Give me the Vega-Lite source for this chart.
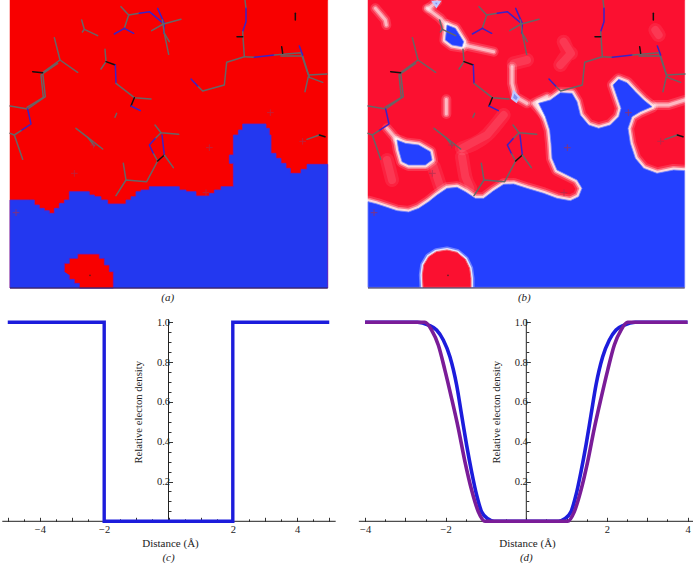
{"$schema":"https://vega.github.io/schema/vega-lite/v6.json","padding":0,"background":"white","columns":2,"spacing":0,"bounds":"flush",
"resolve":{"scale":{"stroke":"independent"}},
"config":{"view":{"stroke":null},"text":{"font":"Liberation Serif"}},
"datasets":{
"mol":[
{"g":"a1","k":"grey","i":0,"x":160,"y":113},{"g":"a1","k":"grey","i":1,"x":177,"y":180},{"g":"a1","k":"grey","i":2,"x":230,"y":217},
{"g":"a2","k":"grey","i":0,"x":177,"y":180},{"g":"a2","k":"grey","i":1,"x":125,"y":218},{"g":"a2","k":"grey","i":2,"x":133,"y":290},{"g":"a2","k":"grey","i":3,"x":80,"y":327},{"g":"a2","k":"grey","i":4,"x":27,"y":318},
{"g":"a3","k":"grey","i":0,"x":170,"y":190},{"g":"a3","k":"grey","i":1,"x":120,"y":225},{"g":"a3","k":"grey","i":2,"x":127,"y":292},{"g":"a3","k":"grey","i":3,"x":78,"y":322},
{"g":"a4","k":"black","i":0,"x":125,"y":218},{"g":"a4","k":"black","i":1,"x":95,"y":215},
{"g":"a5","k":"blue","i":0,"x":80,"y":327},{"g":"a5","k":"blue","i":1,"x":90,"y":372},{"g":"a5","k":"blue","i":2,"x":60,"y":392},
{"g":"a6","k":"grey","i":0,"x":60,"y":392},{"g":"a6","k":"grey","i":1,"x":40,"y":405},{"g":"a6","k":"grey","i":2,"x":65,"y":478},
{"g":"a7","k":"grey","i":0,"x":40,"y":405},{"g":"a7","k":"grey","i":1,"x":27,"y":400},
{"g":"b1","k":"grey","i":0,"x":242,"y":60},{"g":"b1","k":"grey","i":1,"x":250,"y":88},{"g":"b1","k":"grey","i":2,"x":290,"y":107},
{"g":"b2","k":"grey","i":0,"x":250,"y":88},{"g":"b2","k":"grey","i":1,"x":244,"y":96},
{"g":"c1","k":"grey","i":0,"x":360,"y":20},{"g":"c1","k":"grey","i":1,"x":383,"y":45},{"g":"c1","k":"grey","i":2,"x":370,"y":85},
{"g":"c2","k":"blue","i":0,"x":370,"y":85},{"g":"c2","k":"blue","i":1,"x":340,"y":102},
{"g":"c3","k":"blue","i":0,"x":370,"y":85},{"g":"c3","k":"blue","i":1,"x":398,"y":100},
{"g":"c4","k":"grey","i":0,"x":383,"y":45},{"g":"c4","k":"grey","i":1,"x":415,"y":40},
{"g":"c5","k":"blue","i":0,"x":415,"y":40},{"g":"c5","k":"blue","i":1,"x":445,"y":35},{"g":"c5","k":"blue","i":2,"x":487,"y":70},
{"g":"c6","k":"blue","i":0,"x":470,"y":25},{"g":"c6","k":"blue","i":1,"x":490,"y":70},{"g":"c6","k":"blue","i":2,"x":488,"y":100},
{"g":"c7","k":"grey","i":0,"x":452,"y":92},{"g":"c7","k":"grey","i":1,"x":487,"y":72},{"g":"c7","k":"grey","i":2,"x":540,"y":58},
{"g":"c8","k":"grey","i":0,"x":484,"y":60},{"g":"c8","k":"grey","i":1,"x":490,"y":100},{"g":"c8","k":"grey","i":2,"x":503,"y":163},
{"g":"c9","k":"grey","i":0,"x":490,"y":100},{"g":"c9","k":"grey","i":1,"x":505,"y":125},
{"g":"d1","k":"grey","i":0,"x":312,"y":148},{"g":"d1","k":"grey","i":1,"x":315,"y":185},{"g":"d1","k":"grey","i":2,"x":300,"y":207},
{"g":"d2","k":"black","i":0,"x":315,"y":185},{"g":"d2","k":"black","i":1,"x":343,"y":195},
{"g":"d3","k":"blue","i":0,"x":343,"y":195},{"g":"d3","k":"blue","i":1,"x":345,"y":250},
{"g":"d4","k":"grey","i":0,"x":345,"y":250},{"g":"d4","k":"grey","i":1,"x":400,"y":293},{"g":"d4","k":"grey","i":2,"x":450,"y":297},
{"g":"d5","k":"black","i":0,"x":400,"y":293},{"g":"d5","k":"black","i":1,"x":390,"y":318},
{"g":"d6","k":"blue","i":0,"x":390,"y":318},{"g":"d6","k":"blue","i":1,"x":418,"y":332},
{"g":"e1","k":"grey","i":0,"x":732,"y":0},{"g":"e1","k":"grey","i":1,"x":735,"y":25},
{"g":"e2","k":"blue","i":0,"x":735,"y":25},{"g":"e2","k":"blue","i":1,"x":735,"y":65},{"g":"e2","k":"blue","i":2,"x":725,"y":95},
{"g":"e3","k":"grey","i":0,"x":725,"y":95},{"g":"e3","k":"grey","i":1,"x":730,"y":170},{"g":"e3","k":"grey","i":2,"x":677,"y":187},{"g":"e3","k":"grey","i":3,"x":670,"y":255},{"g":"e3","k":"grey","i":4,"x":605,"y":273},{"g":"e3","k":"grey","i":5,"x":590,"y":258},
{"g":"e4","k":"blue","i":0,"x":590,"y":258},{"g":"e4","k":"blue","i":1,"x":570,"y":237},
{"g":"e5","k":"black","i":0,"x":708,"y":110},{"g":"e5","k":"black","i":1,"x":725,"y":110},
{"g":"e6","k":"grey","i":0,"x":730,"y":170},{"g":"e6","k":"grey","i":1,"x":760,"y":172},
{"g":"e7","k":"blue","i":0,"x":760,"y":172},{"g":"e7","k":"blue","i":1,"x":820,"y":165},
{"g":"e8","k":"grey","i":0,"x":820,"y":165},{"g":"e8","k":"grey","i":1,"x":900,"y":158},{"g":"e8","k":"grey","i":2,"x":922,"y":225},{"g":"e8","k":"grey","i":3,"x":978,"y":222},
{"g":"e9","k":"grey","i":0,"x":840,"y":168},{"g":"e9","k":"grey","i":1,"x":905,"y":168},{"g":"e9","k":"grey","i":2,"x":925,"y":232},{"g":"e9","k":"grey","i":3,"x":965,"y":247},
{"g":"e10","k":"blue","i":0,"x":895,"y":138},{"g":"e10","k":"blue","i":1,"x":905,"y":165},
{"g":"e11","k":"grey","i":0,"x":922,"y":230},{"g":"e11","k":"grey","i":1,"x":912,"y":275},
{"g":"e12","k":"black","i":0,"x":842,"y":140},{"g":"e12","k":"black","i":1,"x":845,"y":160},
{"g":"e13","k":"black","i":0,"x":883,"y":40},{"g":"e13","k":"black","i":1,"x":883,"y":60},
{"g":"f1","k":"grey","i":0,"x":225,"y":385},{"g":"f1","k":"grey","i":1,"x":260,"y":412},{"g":"f1","k":"grey","i":2,"x":305,"y":447},
{"g":"f2","k":"grey","i":0,"x":260,"y":412},{"g":"f2","k":"grey","i":1,"x":280,"y":437},
{"g":"h1","k":"grey","i":0,"x":462,"y":375},{"g":"h1","k":"grey","i":1,"x":480,"y":398},{"g":"h1","k":"grey","i":2,"x":533,"y":403},
{"g":"h2","k":"grey","i":0,"x":480,"y":398},{"g":"h2","k":"grey","i":1,"x":462,"y":416},
{"g":"h3","k":"blue","i":0,"x":462,"y":416},{"g":"h3","k":"blue","i":1,"x":445,"y":435},{"g":"h3","k":"blue","i":2,"x":458,"y":462},
{"g":"h4","k":"grey","i":0,"x":458,"y":462},{"g":"h4","k":"grey","i":1,"x":470,"y":483},{"g":"h4","k":"grey","i":2,"x":437,"y":545},{"g":"h4","k":"grey","i":3,"x":375,"y":540},{"g":"h4","k":"grey","i":4,"x":345,"y":587},
{"g":"h5","k":"grey","i":0,"x":375,"y":540},{"g":"h5","k":"grey","i":1,"x":367,"y":490},
{"g":"h6","k":"blue","i":0,"x":483,"y":405},{"g":"h6","k":"blue","i":1,"x":490,"y":465},
{"g":"h7","k":"black","i":0,"x":490,"y":465},{"g":"h7","k":"black","i":1,"x":470,"y":483},
{"g":"h8","k":"grey","i":0,"x":490,"y":465},{"g":"h8","k":"grey","i":1,"x":517,"y":503},
{"g":"j1","k":"grey","i":0,"x":918,"y":418},{"g":"j1","k":"grey","i":1,"x":955,"y":405},
{"g":"j2","k":"black","i":0,"x":955,"y":405},{"g":"j2","k":"black","i":1,"x":972,"y":410},
{"g":"l1","k":"grey","i":0,"x":342,"y":352},{"g":"l1","k":"grey","i":1,"x":347,"y":340}
],
"plus":[{"x":45,"y":638},{"x":220,"y":520},{"x":615,"y":578},{"x":625,"y":443},{"x":808,"y":338},{"x":905,"y":424},{"x":278,"y":435}],
"dots":[{"x":267,"y":826}],
"stepCurve":[{"i":0,"x":-5,"y":1},{"i":1,"x":-2,"y":1},{"i":2,"x":-2,"y":0},{"i":3,"x":2,"y":0},{"i":4,"x":2,"y":1},{"i":5,"x":5,"y":1}],
"smoothCurves":[
{"s":"blue","i":0,"x":-4,"y":1},{"s":"blue","i":1,"x":-2.7,"y":1},{"s":"blue","i":2,"x":-2.43,"y":0.986},{"s":"blue","i":3,"x":-2.226,"y":0.961},{"s":"blue","i":4,"x":-2.06,"y":0.911},{"s":"blue","i":5,"x":-1.895,"y":0.827},{"s":"blue","i":6,"x":-1.729,"y":0.685},{"s":"blue","i":7,"x":-1.605,"y":0.534},{"s":"blue","i":8,"x":-1.481,"y":0.383},{"s":"blue","i":9,"x":-1.357,"y":0.249},{"s":"blue","i":10,"x":-1.233,"y":0.132},{"s":"blue","i":11,"x":-1.109,"y":0.048},{"s":"blue","i":12,"x":-0.944,"y":0.012},{"s":"blue","i":13,"x":-0.8,"y":0},{"s":"blue","i":14,"x":0.8,"y":0},{"s":"blue","i":15,"x":0.944,"y":0.012},{"s":"blue","i":16,"x":1.109,"y":0.048},{"s":"blue","i":17,"x":1.233,"y":0.132},{"s":"blue","i":18,"x":1.357,"y":0.249},{"s":"blue","i":19,"x":1.481,"y":0.383},{"s":"blue","i":20,"x":1.605,"y":0.534},{"s":"blue","i":21,"x":1.729,"y":0.685},{"s":"blue","i":22,"x":1.895,"y":0.827},{"s":"blue","i":23,"x":2.06,"y":0.911},{"s":"blue","i":24,"x":2.226,"y":0.961},{"s":"blue","i":25,"x":2.43,"y":0.986},{"s":"blue","i":26,"x":2.7,"y":1},{"s":"blue","i":27,"x":4,"y":1},
{"s":"purple","i":0,"x":-4,"y":1},{"s":"purple","i":1,"x":-2.516,"y":1},{"s":"purple","i":2,"x":-2.35,"y":0.961},{"s":"purple","i":3,"x":-2.184,"y":0.886},{"s":"purple","i":4,"x":-2.02,"y":0.76},{"s":"purple","i":5,"x":-1.854,"y":0.618},{"s":"purple","i":6,"x":-1.687,"y":0.467},{"s":"purple","i":7,"x":-1.523,"y":0.3},{"s":"purple","i":8,"x":-1.357,"y":0.157},{"s":"purple","i":9,"x":-1.19,"y":0.048},{"s":"purple","i":10,"x":-1.027,"y":0},{"s":"purple","i":11,"x":1.027,"y":0},{"s":"purple","i":12,"x":1.19,"y":0.048},{"s":"purple","i":13,"x":1.357,"y":0.157},{"s":"purple","i":14,"x":1.523,"y":0.3},{"s":"purple","i":15,"x":1.687,"y":0.467},{"s":"purple","i":16,"x":1.854,"y":0.618},{"s":"purple","i":17,"x":2.02,"y":0.76},{"s":"purple","i":18,"x":2.184,"y":0.886},{"s":"purple","i":19,"x":2.35,"y":0.961},{"s":"purple","i":20,"x":2.516,"y":1},{"s":"purple","i":21,"x":4,"y":1}
],
"bBlue":[
{"g":"main","i":0,"x":63,"y":605},{"g":"main","i":1,"x":90,"y":612},{"g":"main","i":2,"x":120,"y":622},{"g":"main","i":3,"x":150,"y":632},{"g":"main","i":4,"x":185,"y":636},{"g":"main","i":5,"x":215,"y":625},{"g":"main","i":6,"x":245,"y":605},{"g":"main","i":7,"x":270,"y":585},{"g":"main","i":8,"x":300,"y":565},{"g":"main","i":9,"x":330,"y":562},{"g":"main","i":10,"x":355,"y":575},{"g":"main","i":11,"x":385,"y":595},{"g":"main","i":12,"x":410,"y":595},{"g":"main","i":13,"x":440,"y":572},{"g":"main","i":14,"x":470,"y":553},{"g":"main","i":15,"x":500,"y":552},{"g":"main","i":16,"x":540,"y":565},{"g":"main","i":17,"x":590,"y":580},{"g":"main","i":18,"x":630,"y":595},{"g":"main","i":19,"x":670,"y":602},{"g":"main","i":20,"x":695,"y":590},{"g":"main","i":21,"x":705,"y":565},{"g":"main","i":22,"x":690,"y":540},{"g":"main","i":23,"x":660,"y":525},{"g":"main","i":24,"x":630,"y":510},{"g":"main","i":25,"x":615,"y":475},{"g":"main","i":26,"x":612,"y":430},{"g":"main","i":27,"x":608,"y":390},{"g":"main","i":28,"x":595,"y":350},{"g":"main","i":29,"x":575,"y":310},{"g":"main","i":30,"x":610,"y":300},{"g":"main","i":31,"x":640,"y":278},{"g":"main","i":32,"x":675,"y":280},{"g":"main","i":33,"x":690,"y":305},{"g":"main","i":34,"x":700,"y":345},{"g":"main","i":35,"x":725,"y":375},{"g":"main","i":36,"x":755,"y":385},{"g":"main","i":37,"x":790,"y":375},{"g":"main","i":38,"x":815,"y":350},{"g":"main","i":39,"x":822,"y":325},{"g":"main","i":40,"x":810,"y":290},{"g":"main","i":41,"x":798,"y":255},{"g":"main","i":42,"x":815,"y":238},{"g":"main","i":43,"x":840,"y":248},{"g":"main","i":44,"x":865,"y":275},{"g":"main","i":45,"x":890,"y":300},{"g":"main","i":46,"x":915,"y":320},{"g":"main","i":47,"x":880,"y":335},{"g":"main","i":48,"x":855,"y":350},{"g":"main","i":49,"x":843,"y":385},{"g":"main","i":50,"x":850,"y":430},{"g":"main","i":51,"x":865,"y":475},{"g":"main","i":52,"x":890,"y":505},{"g":"main","i":53,"x":930,"y":520},{"g":"main","i":54,"x":980,"y":510},{"g":"main","i":55,"x":1013,"y":512},{"g":"main","i":56,"x":1013,"y":862},{"g":"main","i":57,"x":63,"y":862},
{"g":"blob1","i":0,"x":150,"y":420},{"g":"blob1","i":1,"x":175,"y":430},{"g":"blob1","i":2,"x":215,"y":435},{"g":"blob1","i":3,"x":250,"y":455},{"g":"blob1","i":4,"x":255,"y":480},{"g":"blob1","i":5,"x":235,"y":495},{"g":"blob1","i":6,"x":185,"y":495},{"g":"blob1","i":7,"x":165,"y":485},{"g":"blob1","i":8,"x":155,"y":450},
{"g":"blob2","i":0,"x":300,"y":75},{"g":"blob2","i":1,"x":325,"y":85},{"g":"blob2","i":2,"x":350,"y":125},{"g":"blob2","i":3,"x":345,"y":140},{"g":"blob2","i":4,"x":315,"y":135},{"g":"blob2","i":5,"x":295,"y":120}
],
"bRed":[{"g":"isle","i":0,"x":228,"y":862},{"g":"isle","i":1,"x":226,"y":825},{"g":"isle","i":2,"x":230,"y":795},{"g":"isle","i":3,"x":245,"y":770},{"g":"isle","i":4,"x":268,"y":755},{"g":"isle","i":5,"x":300,"y":750},{"g":"isle","i":6,"x":330,"y":757},{"g":"isle","i":7,"x":355,"y":778},{"g":"isle","i":8,"x":368,"y":805},{"g":"isle","i":9,"x":372,"y":835},{"g":"isle","i":10,"x":372,"y":862}],
"bRidges":[
{"g":"r1","i":0,"x":240,"y":25},{"g":"r1","i":1,"x":280,"y":55},{"g":"r1","i":2,"x":350,"y":135},{"g":"r1","i":3,"x":440,"y":155},
{"g":"r2","i":0,"x":85,"y":25},{"g":"r2","i":1,"x":115,"y":60},{"g":"r2","i":2,"x":118,"y":75},
{"g":"r4","i":0,"x":495,"y":200},{"g":"r4","i":1,"x":495,"y":250},{"g":"r4","i":2,"x":505,"y":290},{"g":"r4","i":3,"x":540,"y":310},
{"g":"r5","i":0,"x":298,"y":298},{"g":"r5","i":1,"x":298,"y":342},
{"g":"r7","i":0,"x":120,"y":385},{"g":"r7","i":1,"x":150,"y":420},
{"g":"r8","i":0,"x":925,"y":315},{"g":"r8","i":1,"x":965,"y":315},{"g":"r8","i":2,"x":1013,"y":300},
{"g":"r9","i":0,"x":270,"y":5},{"g":"r9","i":1,"x":245,"y":25},
{"g":"r10","i":0,"x":600,"y":290},{"g":"r10","i":1,"x":560,"y":310},{"g":"r10","i":2,"x":595,"y":350}
],
"bPink":[
{"g":"p1","i":0,"x":650,"y":125},{"g":"p1","i":1,"x":672,"y":160},{"g":"p1","i":2,"x":640,"y":195},
{"g":"p2","i":0,"x":345,"y":445},{"g":"p2","i":1,"x":420,"y":405},{"g":"p2","i":2,"x":470,"y":345},
{"g":"p3","i":0,"x":345,"y":470},{"g":"p3","i":1,"x":355,"y":530},{"g":"p3","i":2,"x":370,"y":565},
{"g":"p4","i":0,"x":925,"y":90},{"g":"p4","i":1,"x":935,"y":105},
{"g":"p5","i":0,"x":260,"y":500},{"g":"p5","i":1,"x":280,"y":560},
{"g":"p6","i":0,"x":120,"y":480},{"g":"p6","i":1,"x":135,"y":540},
{"g":"p7","i":0,"x":540,"y":180},{"g":"p7","i":1,"x":500,"y":190}
],
"bPale":[{"g":"q1","i":0,"x":258,"y":5},{"g":"q1","i":1,"x":278,"y":5},{"g":"q1","i":2,"x":268,"y":20},{"g":"q2","i":0,"x":500,"y":275},{"g":"q2","i":1,"x":516,"y":292},{"g":"q2","i":2,"x":508,"y":305},{"g":"q2","i":3,"x":495,"y":295}]
},
"concat":[
{"width":346,"height":310,
"encoding":{"x":{"field":"x","type":"quantitative","scale":{"domain":[0,1038],"nice":false,"zero":false},"axis":null},"y":{"field":"y","type":"quantitative","scale":{"domain":[930,0],"nice":false,"zero":false},"axis":null}},
"layer":[
{"data":{"values":[{"i":0,"x":27,"y":0},{"i":1,"x":980,"y":0},{"i":2,"x":980,"y":864},{"i":3,"x":27,"y":864}]},"mark":{"type":"line","clip":true,"fill":"#f80000","stroke":"#f80000","strokeWidth":0.5,"interpolate":"linear-closed"},"encoding":{"order":{"field":"i"}}},
{"data":{"values":[
{"g":"m","i":0,"x":27,"y":600},{"g":"m","i":1,"x":85,"y":600},{"g":"m","i":2,"x":100,"y":615},{"g":"m","i":3,"x":115,"y":625},{"g":"m","i":4,"x":130,"y":632},{"g":"m","i":5,"x":145,"y":640},{"g":"m","i":6,"x":160,"y":625},{"g":"m","i":7,"x":175,"y":610},{"g":"m","i":8,"x":190,"y":600},{"g":"m","i":9,"x":205,"y":575},{"g":"m","i":10,"x":265,"y":585},{"g":"m","i":11,"x":280,"y":590},{"g":"m","i":12,"x":300,"y":600},{"g":"m","i":13,"x":320,"y":612},{"g":"m","i":14,"x":375,"y":600},{"g":"m","i":15,"x":390,"y":590},{"g":"m","i":16,"x":405,"y":575},{"g":"m","i":17,"x":420,"y":570},{"g":"m","i":18,"x":445,"y":560},{"g":"m","i":19,"x":535,"y":570},{"g":"m","i":20,"x":555,"y":575},{"g":"m","i":21,"x":585,"y":588},{"g":"m","i":22,"x":625,"y":580},{"g":"m","i":23,"x":640,"y":570},{"g":"m","i":24,"x":660,"y":560},{"g":"m","i":25,"x":697,"y":530},{"g":"m","i":26,"x":697,"y":490},{"g":"m","i":27,"x":685,"y":465},{"g":"m","i":28,"x":697,"y":405},{"g":"m","i":29,"x":712,"y":390},{"g":"m","i":30,"x":725,"y":372},{"g":"m","i":31,"x":795,"y":385},{"g":"m","i":32,"x":805,"y":405},{"g":"m","i":33,"x":810,"y":460},{"g":"m","i":34,"x":825,"y":475},{"g":"m","i":35,"x":840,"y":490},{"g":"m","i":36,"x":855,"y":505},{"g":"m","i":37,"x":868,"y":520},{"g":"m","i":38,"x":900,"y":508},{"g":"m","i":39,"x":918,"y":493},{"g":"m","i":40,"x":980,"y":864},{"g":"m","i":41,"x":27,"y":864},{"g":"m","i":42,"x":27,"y":600}
]},"mark":{"type":"line","clip":true,"fill":"#2338f0","stroke":"#4a28d8","strokeWidth":0.8,"interpolate":"step-after"},"encoding":{"detail":{"field":"g"},"order":{"field":"i"}}},
{"data":{"values":[
{"i":0,"x":190,"y":815},{"i":1,"x":190,"y":790},{"i":2,"x":205,"y":775},{"i":3,"x":230,"y":762},{"i":4,"x":295,"y":775},{"i":5,"x":310,"y":795},{"i":6,"x":325,"y":815},{"i":7,"x":337,"y":864},{"i":8,"x":235,"y":850},{"i":9,"x":220,"y":838},{"i":10,"x":205,"y":825}
]},"mark":{"type":"line","clip":true,"fill":"#f80000","stroke":"#5a20c8","strokeWidth":0.8,"interpolate":"step-after"},"encoding":{"order":{"field":"i"}}},
{"data":{"name":"mol"},"mark":{"type":"line","clip":true,"strokeWidth":1.5,"strokeCap":"round","strokeJoin":"round"},"encoding":{"detail":{"field":"g"},"order":{"field":"i"},"stroke":{"field":"k","type":"nominal","legend":null,"scale":{"domain":["grey","blue","black"],"range":["#666666","#3a22c8","#111111"]}}}},
{"data":{"name":"plus"},"mark":{"type":"point","clip":true,"shape":"M-1,0H1M0,-1V1","size":45,"filled":false,"stroke":"#a83050","strokeWidth":1}},
{"data":{"name":"dots"},"mark":{"type":"point","clip":true,"shape":"circle","size":3,"filled":true,"color":"#222222"}},
{"data":{"values":[{"i":0,"x":27,"y":864},{"i":1,"x":980,"y":864}]},"mark":{"type":"line","stroke":"#2a2a50","strokeWidth":1},"encoding":{"order":{"field":"i"}}},
{"data":{"values":[{"x":500,"y":893,"t":"(a)"}]},"mark":{"type":"text","font":"Liberation Serif","fontSize":11,"fontStyle":"italic","align":"center","baseline":"middle","color":"#222222"},"encoding":{"text":{"field":"t"}}}
]},
{"width":346,"height":310,
"resolve":{"scale":{"x":"independent"}},
"layer":[
{"layer":[
{"data":{"values":[{"i":0,"x":63,"y":0},{"i":1,"x":1013,"y":0},{"i":2,"x":1013,"y":864},{"i":3,"x":63,"y":864}]},"mark":{"type":"line","clip":true,"fill":"#fb1030","stroke":"#fb1030","strokeWidth":0.5,"interpolate":"linear-closed"},"encoding":{"order":{"field":"i"}}},
{"data":{"name":"bPink"},"mark":{"type":"line","clip":true,"interpolate":"monotone","stroke":"#ffffff","strokeWidth":14,"opacity":0.08,"strokeCap":"round","strokeJoin":"round"},"encoding":{"detail":{"field":"g"},"order":{"field":"i"}}},
{"data":{"name":"bPink"},"mark":{"type":"line","clip":true,"stroke":"#ffffff","strokeWidth":8,"opacity":0.1,"strokeCap":"round","strokeJoin":"round"},"encoding":{"detail":{"field":"g"},"order":{"field":"i"}}},
{"data":{"name":"bRidges"},"mark":{"type":"line","clip":true,"stroke":"#ffffff","strokeWidth":10,"opacity":0.15,"strokeCap":"round","strokeJoin":"round"},"encoding":{"detail":{"field":"g"},"order":{"field":"i"}}},
{"data":{"name":"bRidges"},"mark":{"type":"line","clip":true,"stroke":"#ffffff","strokeWidth":6,"opacity":0.3,"strokeCap":"round","strokeJoin":"round"},"encoding":{"detail":{"field":"g"},"order":{"field":"i"}}},
{"data":{"name":"bRidges"},"mark":{"type":"line","clip":true,"stroke":"#ffffff","strokeWidth":3,"opacity":0.5,"strokeCap":"round","strokeJoin":"round"},"encoding":{"detail":{"field":"g"},"order":{"field":"i"}}},
{"data":{"name":"bBlue"},"mark":{"type":"line","clip":true,"interpolate":"linear-closed","stroke":"#ffffff","strokeWidth":12,"opacity":0.15,"strokeJoin":"round"},"encoding":{"detail":{"field":"g"},"order":{"field":"i"}}},
{"data":{"name":"bBlue"},"mark":{"type":"line","clip":true,"interpolate":"linear-closed","stroke":"#ffffff","strokeWidth":8,"opacity":0.35,"strokeJoin":"round"},"encoding":{"detail":{"field":"g"},"order":{"field":"i"}}},
{"data":{"name":"bBlue"},"mark":{"type":"line","clip":true,"interpolate":"linear-closed","stroke":"#ffffff","strokeWidth":5,"opacity":0.7,"strokeJoin":"round"},"encoding":{"detail":{"field":"g"},"order":{"field":"i"}}},
{"data":{"name":"bBlue"},"mark":{"type":"line","clip":true,"interpolate":"linear-closed","fill":"#2440ff","stroke":"#6c80ff","strokeWidth":0.8,"strokeJoin":"round"},"encoding":{"detail":{"field":"g"},"order":{"field":"i"}}},
{"data":{"name":"bPale"},"mark":{"type":"line","clip":true,"interpolate":"linear-closed","fill":"#8090f0","stroke":"#c0c8ff","strokeWidth":2},"encoding":{"detail":{"field":"g"},"order":{"field":"i"}}},
{"data":{"name":"bRed"},"mark":{"type":"line","clip":true,"stroke":"#ffffff","strokeWidth":7,"opacity":0.35,"strokeJoin":"round"},"encoding":{"order":{"field":"i"}}},
{"data":{"name":"bRed"},"mark":{"type":"line","clip":true,"stroke":"#ffffff","strokeWidth":4,"opacity":0.8,"strokeJoin":"round"},"encoding":{"order":{"field":"i"}}},
{"data":{"name":"bRed"},"mark":{"type":"line","clip":true,"interpolate":"linear-closed","fill":"#fb1030","stroke":"#fb6070","strokeWidth":1},"encoding":{"order":{"field":"i"}}},
{"data":{"values":[{"i":0,"x":63,"y":864},{"i":1,"x":1013,"y":864}]},"mark":{"type":"line","stroke":"#2a2a50","strokeWidth":1},"encoding":{"order":{"field":"i"}}},
{"data":{"values":[{"x":532,"y":893,"t":"(b)"}]},"mark":{"type":"text","font":"Liberation Serif","fontSize":11,"fontStyle":"italic","align":"center","baseline":"middle","color":"#222222"},"encoding":{"text":{"field":"t"}}}
],
"encoding":{"x":{"field":"x","type":"quantitative","scale":{"domain":[0,1038],"nice":false,"zero":false},"axis":null},"y":{"field":"y","type":"quantitative","scale":{"domain":[930,0],"nice":false,"zero":false},"axis":null}}},
{"layer":[
{"data":{"name":"mol"},"mark":{"type":"line","clip":true,"strokeWidth":1.5,"strokeCap":"round","strokeJoin":"round"},"encoding":{"detail":{"field":"g"},"order":{"field":"i"},"stroke":{"field":"k","type":"nominal","legend":null,"scale":{"domain":["grey","blue","black"],"range":["#666666","#3a22c8","#111111"]}}}},
{"data":{"name":"plus"},"mark":{"type":"point","clip":true,"shape":"M-1,0H1M0,-1V1","size":45,"filled":false,"stroke":"#a83050","strokeWidth":1}},
{"data":{"name":"dots"},"mark":{"type":"point","clip":true,"shape":"circle","size":3,"filled":true,"color":"#222222"}}
],
"encoding":{"x":{"field":"x","type":"quantitative","scale":{"domain":[-36,1002],"nice":false,"zero":false},"axis":null},"y":{"field":"y","type":"quantitative","scale":{"domain":[930,0],"nice":false,"zero":false},"axis":null}}}
]},
{"width":346,"height":253,
"encoding":{"x":{"field":"x","type":"quantitative","scale":{"domain":[-5.21,5.552],"nice":false,"zero":false},
"axis":{"offset":-41.7,"domain":false,"grid":false,"title":"Distance (Å)","titleFont":"Liberation Serif","titleFontSize":11,"titleFontWeight":"normal","titleColor":"#222222","titleX":169,"titleY":22,"titleBaseline":"middle","labelFont":"Liberation Serif","labelFontSize":10.5,"labelColor":"#222222","tickColor":"#333333","tickSize":{"condition":{"test":"abs(datum.value)%1==0","value":-4},"value":-2.5},"labelPadding":7,"labelFlush":false,"labelOverlap":false,"values":[-5,-4.5,-4,-3.5,-3,-2.5,-2,-1.5,-1,-0.5,0,0.5,1,1.5,2,2.5,3,3.5,4,4.5,5],"labelExpr":"abs(datum.value)%2==0 && datum.value!=0 ? format(datum.value,'.0f') : ''"}},
"y":{"field":"y","type":"quantitative","scale":{"domain":[-0.2095,1.0618],"nice":false,"zero":false},
"axis":{"offset":-167.5,"domain":false,"grid":false,"title":"Relative electon density","titleFont":"Liberation Serif","titleFontSize":10.7,"titleFontWeight":"normal","titleColor":"#222222","titleX":-25,"titleY":101.7,"titleAngle":-90,"titleAlign":"center","titleBaseline":"bottom","labelFont":"Liberation Serif","labelFontSize":10.5,"labelColor":"#222222","tickColor":"#333333","tickSize":{"condition":{"test":"round(datum.value*100)%20==0","value":-4},"value":-2.5},"labelPadding":3,"labelOverlap":false,"values":[0.05,0.1,0.15,0.2,0.25,0.3,0.35,0.4,0.45,0.5,0.55,0.6,0.65,0.7,0.75,0.8,0.85,0.9,0.95,1],"labelExpr":"round(datum.value*100)%20==0 ? format(datum.value,'.1f') : ''"}}},
"layer":[
{"data":{"values":[{"g":"h","i":0,"x":-5.17,"y":0},{"g":"h","i":1,"x":5.2,"y":0},{"g":"v","i":0,"x":0,"y":0},{"g":"v","i":1,"x":0,"y":1.015}]},"mark":{"type":"line","stroke":"#222222","strokeWidth":1},"encoding":{"detail":{"field":"g"},"order":{"field":"i"}}},
{"data":{"name":"stepCurve"},"mark":{"type":"line","stroke":"#1c1cdc","strokeWidth":3.4},"encoding":{"order":{"field":"i"}}},
{"data":{"values":[{"x":0,"y":-0.183,"t":"(c)"}]},"mark":{"type":"text","font":"Liberation Serif","fontSize":11,"fontStyle":"italic","align":"center","baseline":"middle","color":"#222222"},"encoding":{"text":{"field":"t"}}}
]},
{"width":346,"height":253,
"encoding":{"x":{"field":"x","type":"quantitative","scale":{"domain":[-4.449,4.136],"nice":false,"zero":false},
"axis":{"offset":-41.7,"domain":false,"grid":false,"title":"Distance (Å)","titleFont":"Liberation Serif","titleFontSize":11,"titleFontWeight":"normal","titleColor":"#222222","titleX":180,"titleY":22,"titleBaseline":"middle","labelFont":"Liberation Serif","labelFontSize":10.5,"labelColor":"#222222","tickColor":"#333333","tickSize":{"condition":{"test":"abs(datum.value)%1==0","value":-4},"value":-2.5},"labelPadding":7,"labelFlush":false,"labelOverlap":false,"values":[-4,-3.5,-3,-2.5,-2,-1.5,-1,-0.5,0,0.5,1,1.5,2,2.5,3,3.5,4],"labelExpr":"abs(datum.value)%2==0 && datum.value!=0 ? format(datum.value,'.0f') : ''"}},
"y":{"field":"y","type":"quantitative","scale":{"domain":[-0.2095,1.0618],"nice":false,"zero":false},
"axis":{"offset":-179.3,"domain":false,"grid":false,"title":"Relative electon density","titleFont":"Liberation Serif","titleFontSize":10.7,"titleFontWeight":"normal","titleColor":"#222222","titleX":-25,"titleY":101.7,"titleAngle":-90,"titleAlign":"center","titleBaseline":"bottom","labelFont":"Liberation Serif","labelFontSize":10.5,"labelColor":"#222222","tickColor":"#333333","tickSize":{"condition":{"test":"round(datum.value*100)%20==0","value":-4},"value":-2.5},"labelPadding":3,"labelOverlap":false,"values":[0.05,0.1,0.15,0.2,0.25,0.3,0.35,0.4,0.45,0.5,0.55,0.6,0.65,0.7,0.75,0.8,0.85,0.9,0.95,1],"labelExpr":"round(datum.value*100)%20==0 ? format(datum.value,'.1f') : ''"}}},
"layer":[
{"data":{"values":[{"g":"h","i":0,"x":-4.155,"y":0},{"g":"h","i":1,"x":4.136,"y":0},{"g":"v","i":0,"x":0,"y":0},{"g":"v","i":1,"x":0,"y":1.015}]},"mark":{"type":"line","stroke":"#222222","strokeWidth":1},"encoding":{"detail":{"field":"g"},"order":{"field":"i"}}},
{"data":{"name":"smoothCurves"},"mark":{"type":"line","interpolate":"monotone","strokeWidth":3.6},"encoding":{"detail":{"field":"s"},"order":{"field":"i"},"stroke":{"field":"s","type":"nominal","legend":null,"scale":{"domain":["blue","purple"],"range":["#1c1cdc","#7a1c98"]}}}},
{"data":{"values":[{"x":0,"y":-0.183,"t":"(d)"}]},"mark":{"type":"text","font":"Liberation Serif","fontSize":11,"fontStyle":"italic","align":"center","baseline":"middle","color":"#222222"},"encoding":{"text":{"field":"t"}}}
]}
]}
